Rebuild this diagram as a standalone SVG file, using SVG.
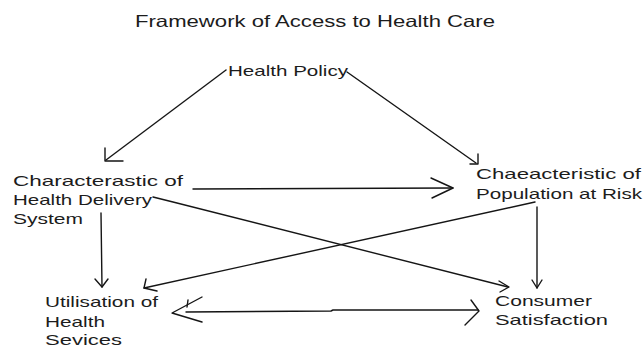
<svg xmlns="http://www.w3.org/2000/svg" width="644" height="347" viewBox="0 0 644 347">
  <style>
    .lbl { font-family: "Liberation Sans", Arial, sans-serif; font-size: 15px; fill: #1c1c1c; }
    .title { font-family: "Liberation Sans", Arial, sans-serif; font-size: 16.5px; fill: #1c1c1c; }
    .edge { fill: none; stroke: #151515; stroke-width: 1.4; stroke-linecap: round; stroke-linejoin: round; }
  </style>
  <rect width="644" height="347" fill="#ffffff"/>

  <text class="title" x="135" y="27" textLength="360" lengthAdjust="spacingAndGlyphs">Framework of Access to Health Care</text>

  <g id="health-policy">
    <text class="lbl" x="228" y="76" textLength="120" lengthAdjust="spacingAndGlyphs">Health Policy</text>
  </g>

  <g id="health-delivery-system">
    <text class="lbl" x="13" y="186" textLength="170" lengthAdjust="spacingAndGlyphs">Characterastic of</text>
    <text class="lbl" x="13" y="205" textLength="139" lengthAdjust="spacingAndGlyphs">Health Delivery</text>
    <text class="lbl" x="13" y="224" textLength="70" lengthAdjust="spacingAndGlyphs">System</text>
  </g>

  <g id="population-at-risk">
    <text class="lbl" x="476" y="179" textLength="165" lengthAdjust="spacingAndGlyphs">Chaeacteristic of</text>
    <text class="lbl" x="476" y="199" textLength="166" lengthAdjust="spacingAndGlyphs">Population at Risk</text>
  </g>

  <g id="utilisation">
    <text class="lbl" x="45" y="307" textLength="113" lengthAdjust="spacingAndGlyphs">Utilisation of</text>
    <text class="lbl" x="45" y="327" textLength="60" lengthAdjust="spacingAndGlyphs">Health</text>
    <text class="lbl" x="45" y="345" textLength="77" lengthAdjust="spacingAndGlyphs">Sevices</text>
  </g>

  <g id="consumer-satisfaction">
    <text class="lbl" x="495" y="306" textLength="97" lengthAdjust="spacingAndGlyphs">Consumer</text>
    <text class="lbl" x="495" y="325" textLength="113" lengthAdjust="spacingAndGlyphs">Satisfaction</text>
  </g>

  <g id="connectors">
    <!-- Health Policy -> Health Delivery System -->
    <line class="edge" x1="226" y1="70" x2="106" y2="160"/>
    <polyline class="edge" points="105,148 105,161 123,161"/>

    <!-- Health Policy -> Population at Risk -->
    <line class="edge" x1="347" y1="72" x2="476" y2="163"/>
    <polyline class="edge" points="478,154 478,164 470,164"/>

    <!-- Health Delivery System -> Population at Risk -->
    <line class="edge" x1="193" y1="189" x2="453" y2="188"/>
    <polyline class="edge" points="431,178 453,188 432,198"/>

    <!-- Health Delivery System -> Consumer Satisfaction -->
    <polyline class="edge" points="153,197 173,202 508,287"/>
    <polyline class="edge" points="499,281 509,287 500,292"/>

    <!-- Population at Risk -> Utilisation -->
    <line class="edge" x1="535" y1="202" x2="144" y2="288"/>
    <polyline class="edge" points="146,279 144,288 157,291"/>

    <!-- Population at Risk -> Consumer Satisfaction -->
    <line class="edge" x1="537" y1="207" x2="537" y2="288"/>
    <polyline class="edge" points="532,280 537,288 542,280"/>

    <!-- Health Delivery System -> Utilisation -->
    <line class="edge" x1="101" y1="213" x2="102" y2="287"/>
    <polyline class="edge" points="95,279 102,287 108,279"/>

    <!-- Utilisation <-> Consumer Satisfaction -->
    <polyline class="edge" points="186,312 331,311 333,310 478,310"/>
    <polyline class="edge" points="202,297 172,313 202,322"/>
    <line class="edge" x1="188" y1="300" x2="187" y2="307"/>
    <polyline class="edge" points="471,300 479,311 465,325"/>
  </g>
</svg>
